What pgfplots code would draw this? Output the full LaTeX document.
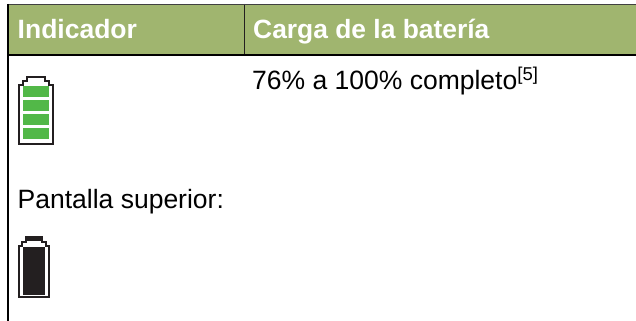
\documentclass[border=0pt]{standalone}
\usepackage{pgfplots}
\pgfplotsset{compat=1.18}
\usepackage{fontspec}
\setmainfont{Liberation Sans}
\definecolor{hdr}{HTML}{A0B56F}
\definecolor{bgreen}{HTML}{52B848}
\definecolor{bdark}{HTML}{231F20}
\begin{document}
\begin{tikzpicture}[x=1bp,y=1bp]
\begin{axis}[at={(0,0)},anchor=south west,width=636bp,height=321bp,scale only axis,
  xmin=0,xmax=636,ymin=0,ymax=321,y dir=reverse,hide axis,clip=true]
\addplot[draw=none,fill=white] coordinates {(0,0) (636,0) (636,321) (0,321)} --cycle;
% header
\addplot[draw=none,fill=hdr] coordinates {(8,5) (636,5) (636,54.5) (8,54.5)} --cycle;
\addplot[draw=bdark,line width=1.2bp] coordinates {(244.5,4) (244.5,55)};
\addplot[draw=black!75,line width=1.3bp] coordinates {(7,4.2) (636,4.2)};
\addplot[draw=black,line width=1.8bp] coordinates {(7,55) (636,55)};
\addplot[draw=black,line width=1.8bp] coordinates {(8,4) (8,321)};
% green battery outline
\addplot[draw=bdark,line width=2bp,fill=white] coordinates {(19.3,144) (19.3,85) (22.7,85) (22.7,81) (27,81) (27,77) (45,77) (45,81) (49,81) (49,85) (53.3,85) (53.3,144)} --cycle;
\addplot[draw=none,fill=bgreen] coordinates {(22.7,86) (49.3,86) (49.3,97.3) (22.7,97.3)} --cycle;
\addplot[draw=none,fill=bgreen] coordinates {(22.7,100) (49.3,100) (49.3,111.3) (22.7,111.3)} --cycle;
\addplot[draw=none,fill=bgreen] coordinates {(22.7,114) (49.3,114) (49.3,125.3) (22.7,125.3)} --cycle;
\addplot[draw=none,fill=bgreen] coordinates {(22.7,128) (49.3,128) (49.3,139.3) (22.7,139.3)} --cycle;
% black battery
\addplot[draw=bdark,line width=2bp,fill=white] coordinates {(19.3,297) (19.3,246) (21.7,246) (21.7,241.7) (26,241.7) (26,237) (41.7,237) (41.7,241.7) (46.3,241.7) (46.3,246) (49,246) (49,297)} --cycle;
\addplot[draw=none,fill=bdark] coordinates {(25,236) (42.7,236) (42.7,241) (25,241)} --cycle;
\addplot[draw=none,fill=bdark] coordinates {(22.7,246.7) (45,246.7) (45,295) (22.7,295)} --cycle;
\node[anchor=base west,font=\fontsize{26.6}{28}\selectfont\bfseries,text=white,inner sep=0pt] at (axis cs:17.5,38) {Indicador};
\node[anchor=base west,font=\fontsize{26.5}{28}\selectfont\bfseries,text=white,inner sep=0pt] at (axis cs:253,38) {Carga de la batería};
\node[anchor=base west,font=\fontsize{26.6}{28}\selectfont,text=black,inner sep=0pt] at (axis cs:252,89.5) {76\% a 100\% completo\textsuperscript{[5]}};
\node[anchor=base west,font=\fontsize{26.6}{28}\selectfont,text=black,inner sep=0pt] at (axis cs:17.5,208) {Pantalla superior:};
\end{axis}
\end{tikzpicture}
\end{document}
